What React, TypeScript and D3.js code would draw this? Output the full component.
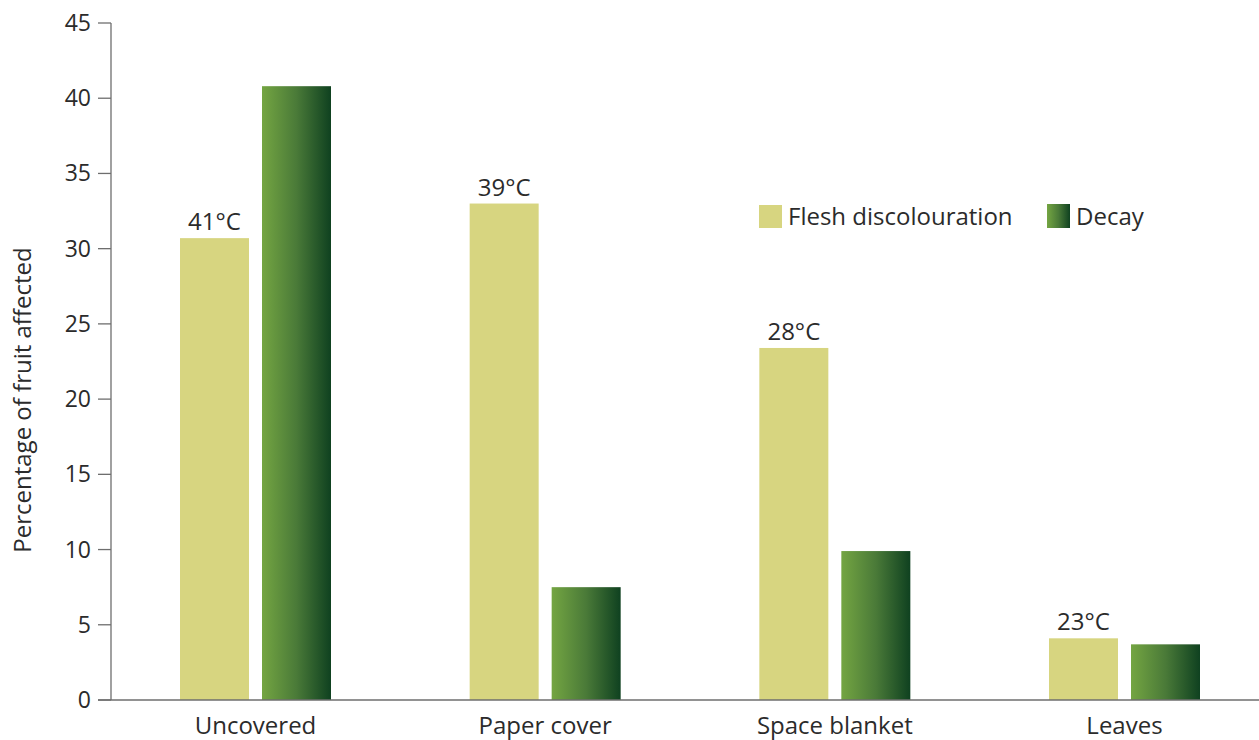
import React from "react";
import * as d3 from "d3";

// Share of fruit showing each defect, by field covering treatment
const categories = ["Uncovered", "Paper cover", "Space blanket", "Leaves"];
const seriesKeys = ["flesh", "decay"];
const seriesNames = ["Flesh discolouration", "Decay"];
const fleshValues = [30.7, 33.0, 23.4, 4.1];
const decayValues = [40.8, 7.5, 9.9, 3.7];
const tempLabels = ["41°C", "39°C", "28°C", "23°C"];
const yTicks = [0, 5, 10, 15, 20, 25, 30, 35, 40, 45];

const W = 1259;
const H = 740;
const FONT = "'Open Sans', 'Noto Sans', sans-serif";
const TEXT = "#2b2b2b";
const AXIS = "#6e6e6e";
const FLESH = "#d7d580";

export default function App() {
  const axisX = 111;
  const y = d3.scaleLinear().domain([0, 45]).range([700, 23]);
  const x0 = d3
    .scaleBand<string>()
    .domain(categories)
    .range([axisX, axisX + 1158])
    .paddingInner(0.4787)
    .paddingOuter(0.2382);
  const x1 = d3
    .scaleBand<string>()
    .domain(seriesKeys)
    .range([0, x0.bandwidth()])
    .paddingInner(0.1585);

  const rows = categories.map((c, i) => ({
    cat: c,
    flesh: fleshValues[i],
    decay: decayValues[i],
    temp: tempLabels[i],
  }));

  return (
    <svg
      width={W}
      height={H}
      style={{ position: "absolute", left: 0, top: 0, background: "#fff" }}
      fontFamily={FONT}
    >
      <defs>
        <linearGradient id="decayGrad" x1="0" x2="1" y1="0" y2="0">
          <stop offset="0%" stopColor="#74a542" />
          <stop offset="50%" stopColor="#4a7a38" />
          <stop offset="100%" stopColor="#0f4120" />
        </linearGradient>
      </defs>

      {/* bars */}
      {rows.map((r) => {
        const gx = x0(r.cat)!;
        const fx = gx + x1("flesh")!;
        const dx = gx + x1("decay")!;
        const bw = x1.bandwidth();
        return (
          <g key={r.cat}>
            <rect x={fx} y={y(r.flesh)} width={bw} height={y(0) - y(r.flesh)} fill={FLESH} />
            <rect x={dx} y={y(r.decay)} width={bw} height={y(0) - y(r.decay)} fill="url(#decayGrad)" />
            <text
              x={fx + bw / 2}
              y={y(r.flesh) - 8}
              textAnchor="middle"
              fontSize={24}
              fill={TEXT}
            >
              {r.temp}
            </text>
            <text
              x={gx + x0.bandwidth() / 2}
              y={734}
              textAnchor="middle"
              fontSize={24}
              fill={TEXT}
            >
              {r.cat}
            </text>
          </g>
        );
      })}

      {/* y axis */}
      <line x1={axisX} x2={axisX} y1={y(45)} y2={y(0)} stroke={AXIS} strokeWidth={1.3} />
      {yTicks.map((t) => (
        <g key={t}>
          <line x1={98} x2={axisX} y1={y(t)} y2={y(t)} stroke={AXIS} strokeWidth={1.3} />
          <text x={91} y={y(t)} dy="0.35em" textAnchor="end" fontSize={23} fill={TEXT}>
            {t}
          </text>
        </g>
      ))}
      {/* baseline */}
      <line x1={98} x2={W} y1={y(0)} y2={y(0)} stroke={AXIS} strokeWidth={1.5} />

      <text
        transform={`translate(31, 400) rotate(-90)`}
        textAnchor="middle"
        fontSize={24}
        fill={TEXT}
      >
        Percentage of fruit affected
      </text>

      {/* legend */}
      <g>
        <rect x={759} y={205} width={23} height={23} fill={FLESH} />
        <text x={788} y={216.5} dy="0.35em" fontSize={24} fill={TEXT}>
          {seriesNames[0]}
        </text>
        <rect x={1047} y={204} width={23} height={24} fill="url(#decayGrad)" />
        <text x={1076} y={216.5} dy="0.35em" fontSize={24} fill={TEXT}>
          {seriesNames[1]}
        </text>
      </g>
    </svg>
  );
}
